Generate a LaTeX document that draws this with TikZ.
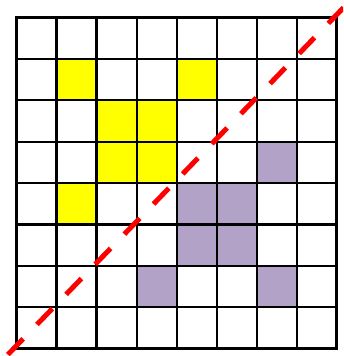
\documentclass[tikz,border=0pt]{standalone}
\usetikzlibrary{calc}
\definecolor{cellyellow}{RGB}{255,255,0}
\definecolor{cellpurple}{RGB}{179,162,199}
\begin{document}
\begin{tikzpicture}[x=1pt,y=-1pt,
  yellowcell/.style={fill=cellyellow},
  purplecell/.style={fill=cellpurple},
  innerline/.style={line width=2.3pt,black},
  outerline/.style={line width=3pt,black},
  diagline/.style={red,line width=5pt,dash pattern=on 22pt off 19.9pt}]
\useasboundingbox (0,0) rectangle (343,356);
\pgfmathsetmacro{\xo}{16.5}
\pgfmathsetmacro{\yo}{17.5}
\pgfmathsetmacro{\cw}{40.05}
\pgfmathsetmacro{\ch}{41.4}
% yellow cells (col,row)
\foreach \c/\r in {1/1,4/1,2/2,3/2,2/3,3/3,1/4}
  \fill[yellowcell] ({\xo+\cw*\c},{\yo+\ch*\r}) rectangle ++(\cw,\ch);
% purple cells
\foreach \c/\r in {6/3,4/4,5/4,4/5,5/5,3/6,6/6}
  \fill[purplecell] ({\xo+\cw*\c},{\yo+\ch*\r}) rectangle ++(\cw,\ch);
% inner grid lines
\foreach \i in {1,...,7}{
  \draw[innerline] ({\xo+\cw*\i},\yo) -- ({\xo+\cw*\i},{\yo+8*\ch});
  \draw[innerline] (\xo,{\yo+\ch*\i}) -- ({\xo+8*\cw},{\yo+\ch*\i});
}
\draw[outerline] (\xo,\yo) rectangle ({\xo+8*\cw},{\yo+8*\ch});
% red dashed diagonal
\coordinate (dstart) at (7.85,354.6);
\coordinate (dend) at (343.55,7.6);
\begin{scope}
\clip (0,0) rectangle (343,356);
\draw[diagline] (dstart) -- (dend);
\end{scope}
\end{tikzpicture}
\end{document}
